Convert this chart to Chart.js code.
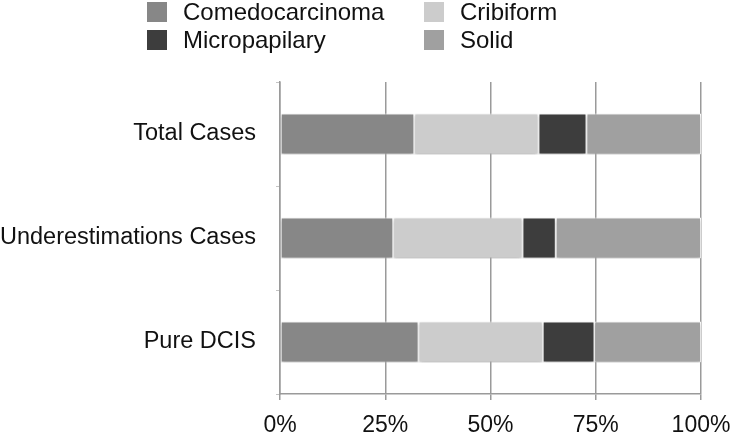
<!DOCTYPE html>
<html>
<head>
<meta charset="utf-8">
<script src="https://cdn.jsdelivr.net/npm/chart.js@4"></script>
<style>
  body { margin: 0; background: #fff; }
  #wrap { position: relative; width: 735px; height: 436px; }
  #legend {
    position: absolute; left: 147px; top: -2px;
    display: grid; grid-template-columns: 277px 200px; grid-auto-rows: 27.7px;
    font-family: "Liberation Sans", Arial, sans-serif; font-size: 24px; color: #111;
  }
  .item { display: flex; align-items: center; white-space: nowrap; }
  .box { width: 20px; height: 20px; margin-right: 16px; flex: none; }
</style>
</head>
<body>
<div id="wrap">
  <canvas id="chart" width="735" height="436"></canvas>
  <div id="legend"></div>
</div>
<script>
const categories = ['Total Cases', 'Underestimations Cases', 'Pure DCIS'];
const seriesNames = ['Comedocarcinoma', 'Cribiform', 'Micropapilary', 'Solid'];
const comedocarcinoma = [31.9, 26.9, 32.9];
const cribiform = [29.5, 30.7, 29.5];
const micropapilary = [11.4, 7.9, 12.3];
const solid = [27.2, 34.5, 25.3];
const xTicks = [0, 25, 50, 75, 100];

const colors = ['#878787', '#cccccc', '#3d3d3d', '#a0a0a0'];
const values = [comedocarcinoma, cribiform, micropapilary, solid];

const datasets = seriesNames.map((name, i) => ({
    label: name,
    data: values[i],
    backgroundColor: colors[i],
    borderColor: '#ffffff',
    borderWidth: 1,
    borderSkipped: false,
    barPercentage: 0.395,
    categoryPercentage: 1
}));

// legend in two columns, like the original
const legend = document.getElementById('legend');
datasets.forEach(ds => {
    const item = document.createElement('div');
    item.className = 'item';
    item.innerHTML = `<span class="box" style="background:${ds.backgroundColor}"></span>${ds.label}`;
    legend.appendChild(item);
});

const barShadow = {
    id: 'barShadow',
    beforeDatasetsDraw(chart) {
        const ctx = chart.ctx;
        ctx.save();
        ctx.shadowColor = 'rgba(0,0,0,0.25)';
        ctx.shadowBlur = 4;
        ctx.shadowOffsetY = 2;
    },
    afterDatasetsDraw(chart) {
        chart.ctx.restore();
    }
};

new Chart(document.getElementById('chart'), {
    type: 'bar',
    data: { labels: categories, datasets: datasets },
    plugins: [barShadow],
    options: {
        indexAxis: 'y',
        responsive: false,
        animation: false,
        layout: { padding: { top: 82, right: 0, left: 0, bottom: 0 } },
        plugins: {
            legend: { display: false },
            tooltip: { enabled: false }
        },
        scales: {
            x: {
                stacked: true,
                min: 0,
                max: 100,
                afterBuildTicks: axis => { axis.ticks = xTicks.map(v => ({ value: v })); },
                afterFit: axis => {
                    axis.height = 42;
                    axis.paddingLeft = 0;
                    axis.paddingRight = 34;
                },
                ticks: {
                    callback: v => v + '%',
                    color: '#111',
                    padding: 12,
                    font: { family: 'Liberation Sans', size: 23 }
                },
                grid: { color: '#9a9a9a', lineWidth: 1.5, tickLength: 6 },
                border: { color: '#9a9a9a', width: 1.5 }
            },
            y: {
                stacked: true,
                afterFit: axis => { axis.width = 280; },
                ticks: {
                    color: '#111',
                    padding: 20,
                    font: { family: 'Liberation Sans', size: 23.5 }
                },
                grid: { drawOnChartArea: false, color: '#c4c4c4', tickLength: 4, offset: true },
                border: { color: '#9a9a9a', width: 1.5 }
            }
        }
    }
});
</script>
</body>
</html>
